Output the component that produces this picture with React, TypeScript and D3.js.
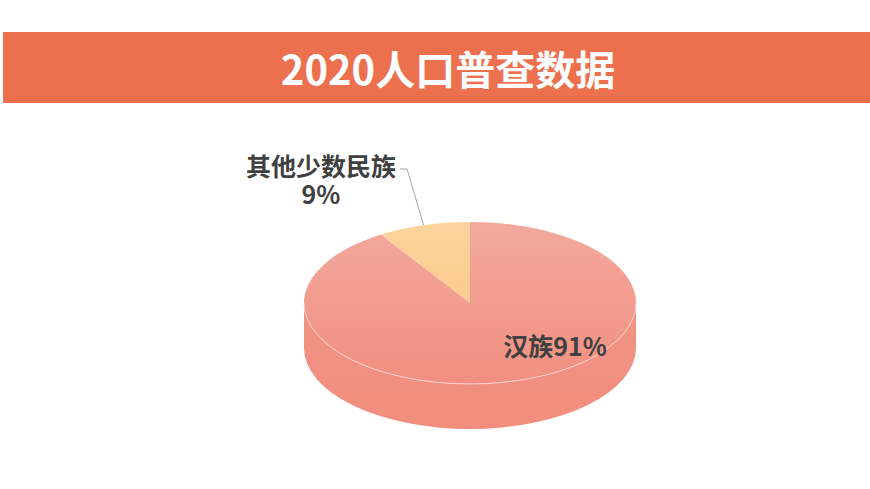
import * as d3 from "d3";

const categories = ["汉族", "其他少数民族"];
const shares = [91, 9];
const title = "2020人口普查数据";

const W = 870;
const H = 489;
const cx = 470;
const cy = 303;
const rx = 166;
const ry = 81;
const depth = 45;
const FONT = "'Noto Sans CJK SC', 'Noto Sans', sans-serif";

const px = (a: number) => cx + rx * Math.sin(a);
const py = (a: number, dy = 0) => cy - ry * Math.cos(a) + dy;

function topPath(a0: number, a1: number) {
  const large = a1 - a0 > Math.PI ? 1 : 0;
  return `M${cx},${cy}L${px(a0)},${py(a0)}A${rx},${ry} 0 ${large} 1 ${px(a1)},${py(a1)}Z`;
}

function sidePath(a0: number, a1: number) {
  const s = Math.max(a0, Math.PI / 2);
  const e = Math.min(a1, (3 * Math.PI) / 2);
  if (e <= s) return null;
  return (
    `M${px(s)},${py(s)}A${rx},${ry} 0 0 1 ${px(e)},${py(e)}` +
    `L${px(e)},${py(e, depth)}A${rx},${ry} 0 0 0 ${px(s)},${py(s, depth)}Z`
  );
}

export default function App() {
  const arcs = d3
    .pie<number>()
    .sort(null)
    .value((d) => d)(shares);

  const topFills = ["url(#gTop)", "url(#gYellow)"];
  const other = arcs[1];
  const mid = (other.startAngle + other.endAngle) / 2;

  return (
    <svg
      width={W}
      height={H}
      style={{ position: "absolute", left: 0, top: 0, background: "#fff" }}
    >
      <defs>
        <linearGradient id="gTop" x1="0" y1="0" x2="0" y2="1">
          <stop offset="0%" stopColor="#F3A99E" />
          <stop offset="100%" stopColor="#F18F7F" />
        </linearGradient>
        <linearGradient id="gSide" x1="0" y1="0" x2="0" y2="1">
          <stop offset="0%" stopColor="#EF9484" />
          <stop offset="100%" stopColor="#F28D7D" />
        </linearGradient>
        <linearGradient id="gYellow" x1="0" y1="0" x2="0" y2="1">
          <stop offset="0%" stopColor="#FDD49C" />
          <stop offset="100%" stopColor="#FCCB8F" />
        </linearGradient>
      </defs>

      <rect x={3} y={32} width={W - 3} height={71} fill="#EC6F4E" />
      <text
        x={448}
        y={68}
        textAnchor="middle"
        dominantBaseline="central"
        fill="#fff"
        fontFamily={FONT}
        fontWeight="bold"
        fontSize={40}
      >
        {title}
      </text>

      {arcs.map((a, i) => {
        const d = sidePath(a.startAngle, a.endAngle);
        return d ? <path key={"s" + i} d={d} fill="url(#gSide)" /> : null;
      })}
      {arcs.map((a, i) => (
        <path key={"t" + i} d={topPath(a.startAngle, a.endAngle)} fill={topFills[i]} />
      ))}
      <path
        d={`M${px(Math.PI / 2)},${py(Math.PI / 2)}A${rx},${ry} 0 0 1 ${px((3 * Math.PI) / 2)},${py((3 * Math.PI) / 2)}`}
        fill="none"
        stroke="#FBD3CC"
        strokeWidth={1}
      />

      <polyline
        points={`400,169 407,169 ${px(mid)},${py(mid)}`}
        fill="none"
        stroke="#A6A6A6"
        strokeWidth={1}
      />

      <text
        x={321}
        textAnchor="middle"
        fill="#404040"
        fontFamily={FONT}
        fontWeight="bold"
        fontSize={25}
      >
        <tspan x={321} y={176}>{categories[1]}</tspan>
        <tspan x={321} y={204}>{shares[1]}%</tspan>
      </text>
      <text
        x={555}
        y={356}
        textAnchor="middle"
        fill="#404040"
        fontFamily={FONT}
        fontWeight="bold"
        fontSize={25}
      >
        {categories[0]}
        {shares[0]}%
      </text>
    </svg>
  );
}
